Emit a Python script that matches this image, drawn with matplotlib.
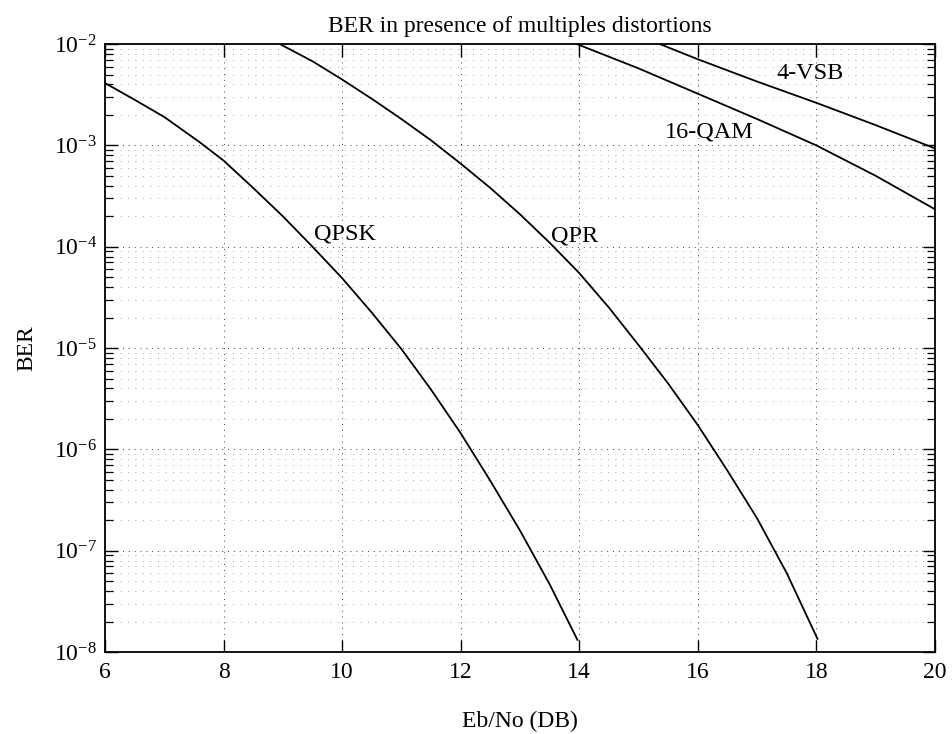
import numpy as np
import matplotlib
matplotlib.use("Agg")
import matplotlib.pyplot as plt
from matplotlib.ticker import FixedLocator, LogFormatterMathtext, NullFormatter

plt.rcParams['font.family'] = ['Liberation Serif', 'DejaVu Serif']
plt.rcParams['mathtext.fontset'] = 'custom'
plt.rcParams['mathtext.rm'] = 'Liberation Serif'
plt.rcParams['mathtext.it'] = 'Liberation Serif:italic'
plt.rcParams['axes.unicode_minus'] = False

# Data (x in dB, BER as log10 values)
qpsk_x = [6.0, 6.5, 7.0, 7.6, 8.0, 8.5, 9.0, 9.5, 10.0, 10.5, 11.0, 11.5, 12.0, 12.5, 13.0, 13.5, 13.97]
qpsk_log = [-2.385, -2.55, -2.72, -2.97, -3.15, -3.42, -3.70, -4.00, -4.31, -4.65, -5.01, -5.41, -5.84, -6.31, -6.80, -7.33, -7.88]

qpr_x = [8.95, 9.5, 10.0, 10.5, 11.0, 11.5, 12.0, 12.5, 13.0, 13.5, 14.0, 14.5, 15.0, 15.5, 16.0, 16.5, 17.0, 17.5, 18.02]
qpr_log = [-2.0, -2.17, -2.35, -2.54, -2.74, -2.95, -3.18, -3.42, -3.68, -3.96, -4.26, -4.60, -4.97, -5.35, -5.76, -6.21, -6.68, -7.22, -7.87]

qam16_x = [13.96, 15.0, 16.0, 17.0, 18.0, 19.0, 20.0]
qam16_log = [-2.0, -2.24, -2.49, -2.74, -3.0, -3.30, -3.63]

vsb4_x = [15.36, 16.0, 17.0, 18.0, 19.0, 20.0]
vsb4_log = [-2.0, -2.15, -2.37, -2.58, -2.80, -3.03]

labels = ['QPSK', 'QPR', '16-QAM', '4-VSB']
label_x = [10.05, 13.93, 16.2, 17.9]
label_log = [-3.87, -3.89, -2.87, -2.29]

x_ticks = [6, 8, 10, 12, 14, 16, 18, 20]
y_decades = [-8, -7, -6, -5, -4, -3, -2]

fig = plt.figure(figsize=(9.52, 7.34), dpi=100)
ax = fig.add_axes([0.1103, 0.1117, 0.8717, 0.8283])

for xs, ls in [(qpsk_x, qpsk_log), (qpr_x, qpr_log), (qam16_x, qam16_log), (vsb4_x, vsb4_log)]:
    ax.plot(xs, 10.0 ** np.array(ls), color='black', linewidth=1.3)

for t, lx, ly in zip(labels, label_x, label_log):
    ax.text(lx, 10.0 ** ly, t, fontsize=17.5, ha='center', va='center', color='black')

ax.set_yscale('log')
ax.set_xlim(6, 20)
ax.set_ylim(1e-8, 1e-2)
ax.set_xticks(x_ticks)
major_y = [10.0 ** d for d in y_decades]
minor_y = [m * 10.0 ** d for d in y_decades[:-1] for m in range(2, 10)]
ax.yaxis.set_major_locator(FixedLocator(major_y))
ax.yaxis.set_minor_locator(FixedLocator(minor_y))
ax.yaxis.set_major_formatter(LogFormatterMathtext())
ax.yaxis.set_minor_formatter(NullFormatter())

ax.tick_params(axis='both', which='both', direction='in', top=True, right=True,
               labelsize=17, colors='black')
ax.tick_params(which='major', length=9, width=1.0)
ax.tick_params(which='minor', length=6, width=0.9)
ax.tick_params(axis='x', pad=7)
ax.tick_params(axis='y', pad=6)

ax.grid(True, which='major', axis='both', color='black', linestyle=(0, (1, 5)), linewidth=0.7, alpha=0.75)
ax.grid(True, which='minor', axis='y', color='black', linestyle=(0, (1, 8)), linewidth=0.6, alpha=0.45)

for sp in ax.spines.values():
    sp.set_linewidth(1.3)

ax.set_title('BER in presence of multiples distortions', fontsize=17, pad=9)
ax.set_xlabel('Eb/No (DB)', fontsize=17, labelpad=20)
ax.set_ylabel('BER', fontsize=17, labelpad=12)

fig.savefig('out.png', dpi=100, facecolor='white')
